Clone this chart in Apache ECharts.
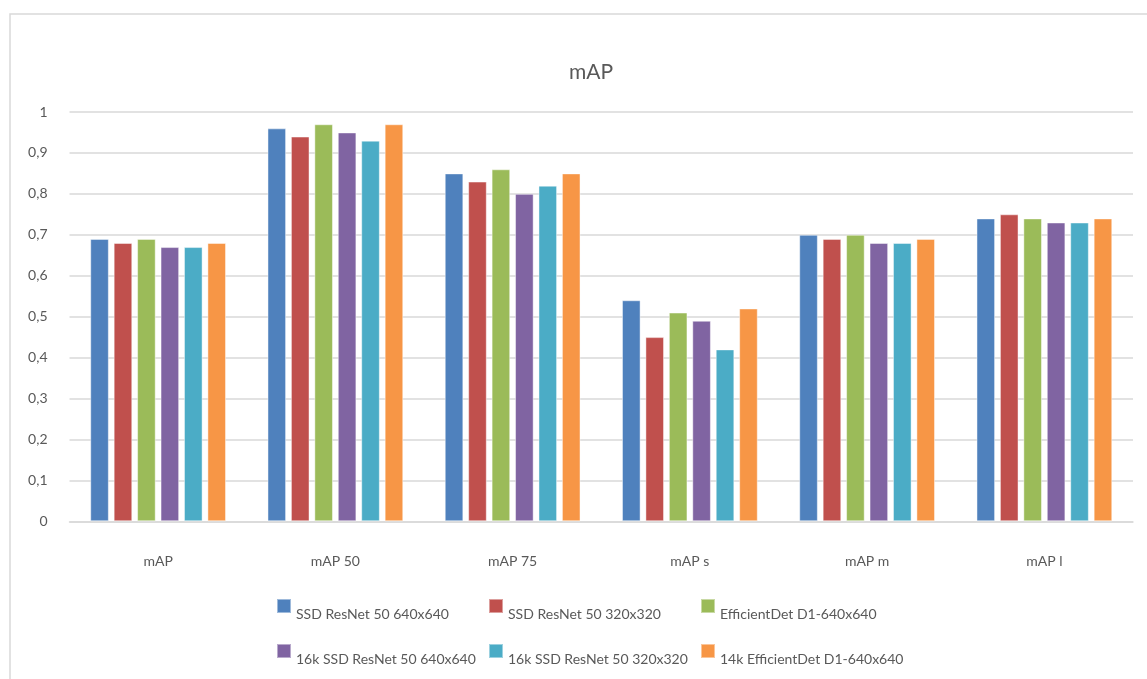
<!DOCTYPE html>
<html>
<head>
<meta charset="utf-8">
<script src="https://cdn.jsdelivr.net/npm/echarts@6/dist/echarts.min.js"></script>
<style>
html,body{margin:0;padding:0;background:#fff;}
#chart{width:1147px;height:679px;}
</style>
</head>
<body>
<div id="chart"></div>
<script>
const categories = ['mAP', 'mAP 50', 'mAP 75', 'mAP s', 'mAP m', 'mAP l'];
const seriesNames = [
  'SSD ResNet 50 640x640',
  'SSD ResNet 50 320x320',
  'EfficientDet D1-640x640',
  '16k SSD ResNet 50 640x640',
  '16k SSD ResNet 50 320x320',
  '14k EfficientDet D1-640x640'
];
const ssd640 = [0.69, 0.96, 0.85, 0.54, 0.70, 0.74];
const ssd320 = [0.68, 0.94, 0.83, 0.45, 0.69, 0.75];
const effDet = [0.69, 0.97, 0.86, 0.51, 0.70, 0.74];
const ssd640_16k = [0.67, 0.95, 0.80, 0.49, 0.68, 0.73];
const ssd320_16k = [0.67, 0.93, 0.82, 0.42, 0.68, 0.73];
const effDet_14k = [0.68, 0.97, 0.85, 0.52, 0.69, 0.74];
const seriesValues = [ssd640, ssd320, effDet, ssd640_16k, ssd320_16k, effDet_14k];
const colors = ['#4f81bd', '#c0504d', '#9bbb59', '#8064a2', '#4bacc6', '#f79646'];

const FONT = 'Lato, "Liberation Sans", sans-serif';
const chart = echarts.init(document.getElementById('chart'), null, {renderer: 'canvas'});

// legend layout: 3 columns x 2 rows
const legendLefts = [276, 488, 700];
const legendTops = [590.5, 635.5];
const legends = seriesNames.map((name, i) => ({
  data: [name],
  left: legendLefts[i % 3],
  top: legendTops[Math.floor(i / 3)],
  padding: 0,
  itemWidth: 14, itemHeight: 14, itemGap: 0,
  icon: 'rect',
  selectedMode: false,
  formatter: n => '{t|' + n + '}',
  textStyle: {
    color: '#595959', fontSize: 14, fontFamily: FONT,
    rich: {t: {color: '#595959', fontSize: 14, fontFamily: FONT, lineHeight: 17, padding: [17, 0, 0, 0]}}
  }
}));

chart.setOption({
  animation: false,
  backgroundColor: '#fff',
  color: colors,
  title: {
    text: 'mAP',
    left: 586, top: 57,
    textAlign: 'center',
    textStyle: {color: '#595959', fontSize: 21, fontWeight: 'normal', fontFamily: FONT}
  },
  graphic: [{
    type: 'rect',
    shape: {x: 10, y: 14, width: 1200, height: 720},
    style: {fill: 'none', stroke: '#d9d9d9', lineWidth: 1.5},
    silent: true, z: -10
  }],
  legend: legends,
  grid: {left: 69.5, right: 14, top: 112, bottom: 157.7, containLabel: false},
  xAxis: {
    type: 'category',
    data: categories,
    axisLine: {show: true, lineStyle: {color: '#d9d9d9', width: 1.5}},
    axisTick: {show: false},
    axisLabel: {color: '#595959', fontSize: 14, fontFamily: FONT, margin: 33}
  },
  yAxis: {
    type: 'value',
    min: 0, max: 1, interval: 0.1,
    axisLine: {show: false},
    axisTick: {show: false},
    splitLine: {lineStyle: {color: '#d9d9d9', width: 1.5}},
    axisLabel: {
      color: '#595959', fontSize: 14, fontFamily: FONT, margin: 22,
      formatter: v => String(+v.toFixed(1)).replace('.', ',')
    }
  },
  series: seriesNames.map((name, i) => ({
    name: name,
    type: 'bar',
    data: seriesValues[i],
    barWidth: 18.6,
    barGap: '26%',
    itemStyle: {color: colors[i], borderColor: 'rgba(255,255,255,0.45)', borderWidth: 1}
  }))
});
</script>
</body>
</html>
